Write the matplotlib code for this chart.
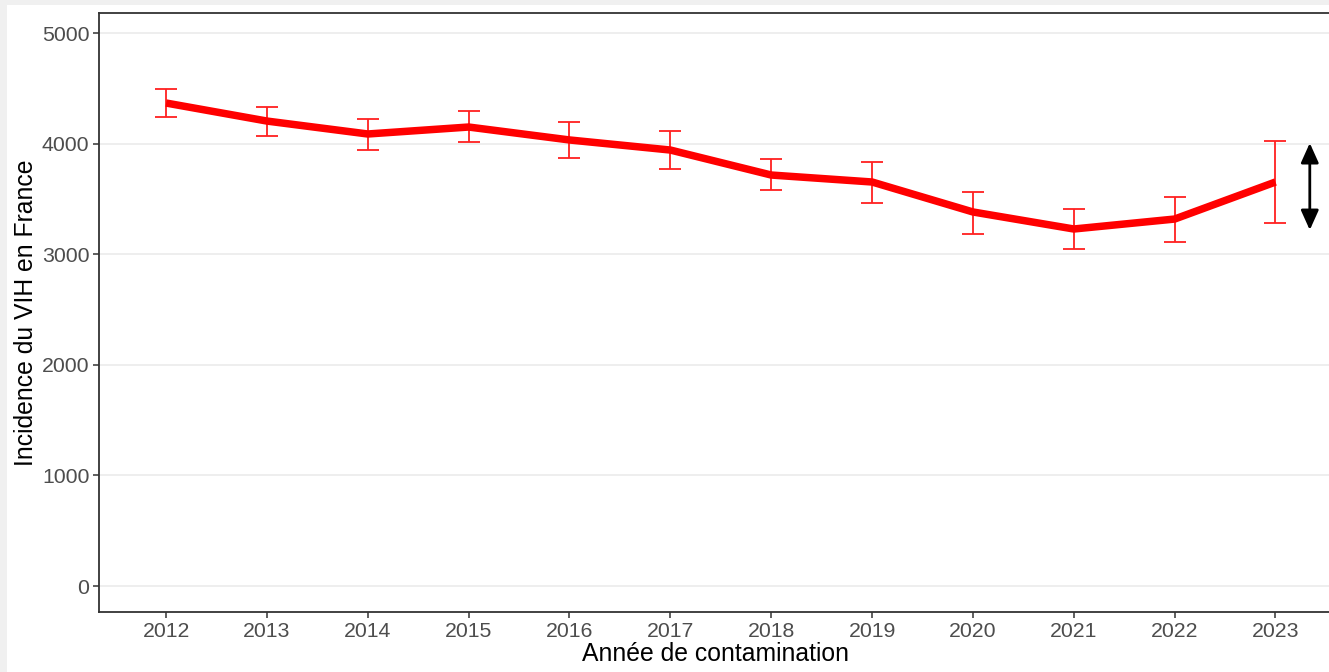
import matplotlib
matplotlib.use("Agg")
import matplotlib.pyplot as plt
from matplotlib.patches import Rectangle

years = [2012, 2013, 2014, 2015, 2016, 2017, 2018, 2019, 2020, 2021, 2022, 2023]
incidence = [4367, 4204, 4087, 4150, 4033, 3942, 3716, 3653, 3382, 3228, 3318, 3653]
lower = [4240, 4069, 3942, 4014, 3870, 3770, 3580, 3463, 3183, 3047, 3110, 3282]
upper = [4494, 4331, 4222, 4295, 4195, 4114, 3861, 3834, 3562, 3409, 3517, 4024]
y_ticks = [0, 1000, 2000, 3000, 4000, 5000]
arrow_x = 2023.34
arrow_range = (4005, 3219)

plt.rcParams['font.family'] = ['Liberation Sans', 'DejaVu Sans']

W, H = 1329, 672
fig = plt.figure(figsize=(W / 100, H / 100), dpi=100, facecolor='#f0f0f0')
fig.patches.append(Rectangle((7 / W, 0), 1, 1 - 5 / H, transform=fig.transFigure,
                             facecolor='white', edgecolor='none', zorder=-10))

left, right = 99 / W, 1.003
bottom, top = 1 - 612 / H, 1 - 13 / H
ax = fig.add_axes([left, bottom, right - left, top - bottom])
ax.set_zorder(1)
ax.set_facecolor('white')

ax.set_xlim(2011.335, 2023.54 + 0.03)
ax.set_ylim(-235, 5181)

for y in y_ticks:
    ax.axhline(y, color='#ebebeb', lw=1.2, zorder=0)

err_low = [v - l for v, l in zip(incidence, lower)]
err_high = [u - v for v, u in zip(incidence, upper)]
ax.errorbar(years, incidence, yerr=[err_low, err_high], fmt='none',
            ecolor='#ff2020', elinewidth=1.3, capsize=8, capthick=1.3, zorder=2)
ax.plot(years, incidence, color='#ff0000', lw=5.4, solid_capstyle='butt',
        solid_joinstyle='round', zorder=3)

ax.annotate('', xy=(arrow_x, arrow_range[0]), xytext=(arrow_x, arrow_range[1]),
            arrowprops=dict(arrowstyle='<|-|>,head_length=0.6,head_width=0.27',
                            color='black', lw=2,
                            mutation_scale=20, shrinkA=0, shrinkB=0))

ax.set_xticks(years)
ax.set_xticklabels([str(y) for y in years])
ax.set_yticks(y_ticks)
ax.tick_params(axis='both', colors='#333333', labelcolor='#4d4d4d',
               labelsize=15.3, length=4, width=1.1, pad=3)

for s in ['left', 'bottom', 'top', 'right']:
    ax.spines[s].set_color('#333333')
    ax.spines[s].set_linewidth(1.3)

ax.set_xlabel('Année de contamination', fontsize=17.8, color='black', labelpad=1)
ax.set_ylabel('Incidence du VIH en France', fontsize=17.8, color='black', labelpad=3)

fig.savefig('out.png', dpi=100, facecolor=fig.get_facecolor())
